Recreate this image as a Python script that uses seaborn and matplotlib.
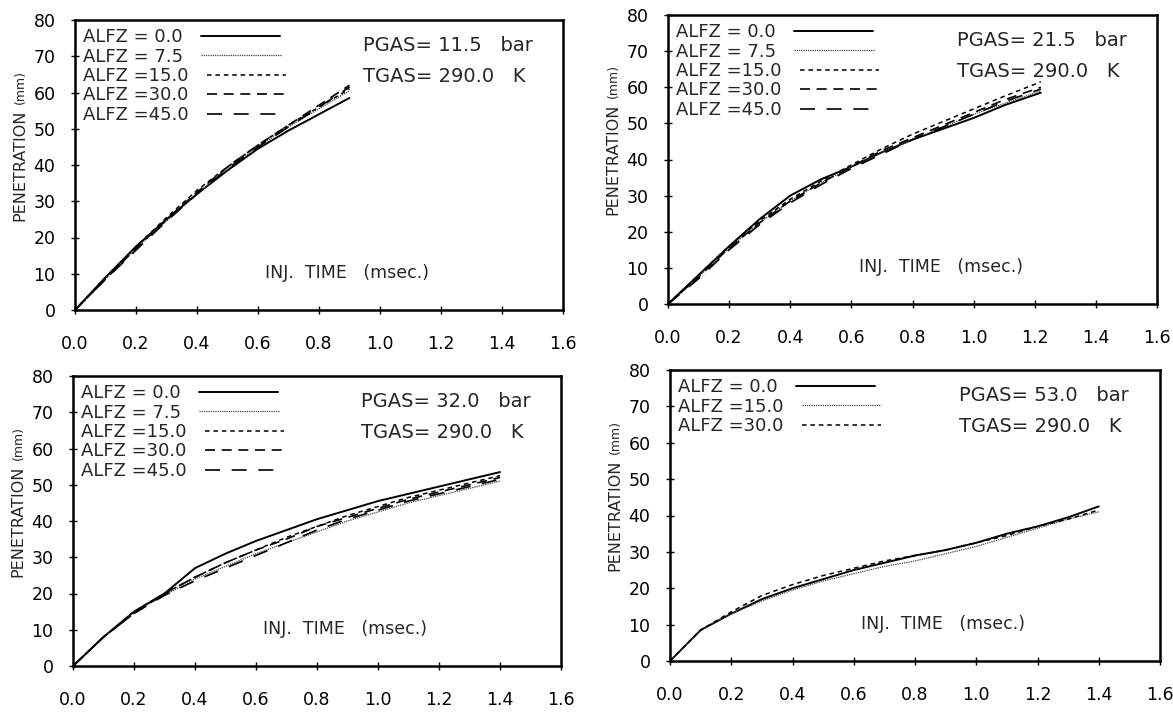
import numpy as np
import pandas as pd
import matplotlib
matplotlib.use("Agg")
import matplotlib.pyplot as plt
import seaborn as sns

# ---------------- data ----------------
ticks_x = [0.0, 0.2, 0.4, 0.6, 0.8, 1.0, 1.2, 1.4, 1.6]
tick_x_labels = ["0.0", "0.2", "0.4", "0.6", "0.8", "1.0", "1.2", "1.4", "1.6"]
ticks_y = [0, 10, 20, 30, 40, 50, 60, 70, 80]

# Panel A: PGAS 11.5 bar
t_a = [0.0, 0.1, 0.2, 0.3, 0.4, 0.5, 0.6, 0.7, 0.8, 0.9]
a_00 = [0, 9.0, 17.5, 25.0, 32.0, 38.5, 44.5, 49.5, 54.0, 58.5]
a_75 = [0, 8.5, 17.0, 24.5, 32.0, 39.0, 45.0, 50.5, 55.5, 60.5]
a_15 = [0, 9.0, 17.5, 25.5, 33.0, 39.5, 45.5, 51.0, 56.0, 61.0]
a_30 = [0, 8.5, 17.0, 25.0, 32.5, 39.5, 45.5, 51.0, 56.5, 62.0]
a_45 = [0, 8.5, 16.5, 24.5, 32.0, 39.0, 45.0, 50.5, 56.0, 61.5]

# Panel B: PGAS 21.5 bar
t_b = [0.0, 0.1, 0.2, 0.3, 0.4, 0.5, 0.6, 0.7, 0.8, 0.9, 1.0, 1.1, 1.22]
b_00 = [0, 8.0, 16.0, 23.5, 30.0, 34.5, 38.0, 42.0, 45.5, 48.5, 51.5, 55.0, 58.5]
b_75 = [0, 7.5, 15.5, 22.5, 28.5, 33.5, 38.0, 42.0, 45.5, 49.0, 52.5, 55.5, 59.0]
b_15 = [0, 8.0, 16.0, 23.0, 29.0, 34.0, 38.5, 43.0, 47.0, 50.5, 54.0, 57.5, 61.5]
b_30 = [0, 7.5, 15.5, 22.5, 28.5, 33.5, 38.0, 42.5, 46.0, 49.5, 53.0, 56.5, 60.0]
b_45 = [0, 7.0, 15.0, 22.0, 28.0, 33.0, 37.5, 41.5, 45.5, 49.0, 52.5, 56.0, 59.5]

# Panel C: PGAS 32.0 bar
t_c = [0.0, 0.1, 0.2, 0.3, 0.4, 0.5, 0.6, 0.7, 0.8, 0.9, 1.0, 1.1, 1.2, 1.3, 1.4]
c_00 = [0, 8.0, 15.0, 20.0, 27.0, 31.0, 34.5, 37.5, 40.5, 43.0, 45.5, 47.5, 49.5, 51.5, 53.5]
c_75 = [0, 8.0, 15.0, 19.5, 24.0, 27.5, 31.0, 34.0, 37.0, 40.0, 42.5, 45.0, 47.0, 49.0, 51.0]
c_15 = [0, 8.0, 15.0, 20.0, 24.5, 28.5, 32.0, 35.5, 38.5, 41.5, 44.0, 46.5, 48.5, 50.5, 52.5]
c_30 = [0, 8.0, 14.5, 20.0, 24.5, 28.5, 32.0, 35.0, 38.5, 41.0, 43.5, 46.0, 48.0, 50.0, 52.0]
c_45 = [0, 8.0, 14.5, 19.5, 23.5, 27.0, 30.5, 34.0, 37.5, 40.5, 43.0, 45.5, 47.5, 49.5, 51.5]

# Panel D: PGAS 53.0 bar
t_d = [0.0, 0.1, 0.2, 0.3, 0.4, 0.5, 0.6, 0.7, 0.8, 0.9, 1.0, 1.1, 1.2, 1.3, 1.4]
d_00 = [0, 8.5, 13.0, 17.0, 20.0, 22.5, 25.0, 27.0, 29.0, 30.5, 32.5, 35.0, 37.0, 39.5, 42.5]
d_15 = [0, 8.5, 13.0, 16.5, 19.5, 22.0, 24.0, 26.0, 27.5, 29.5, 31.5, 34.0, 36.5, 39.0, 41.0]
d_30 = [0, 8.5, 13.5, 18.0, 21.0, 23.5, 25.5, 27.5, 29.0, 30.5, 32.5, 34.5, 37.0, 39.0, 41.5]

labels5 = ["ALFZ = 0.0", "ALFZ = 7.5", "ALFZ =15.0", "ALFZ =30.0", "ALFZ =45.0"]
labels3 = ["ALFZ = 0.0", "ALFZ =15.0", "ALFZ =30.0"]
pgas = ["PGAS= 11.5   bar", "PGAS= 21.5   bar", "PGAS= 32.0   bar", "PGAS= 53.0   bar"]
tgas = "TGAS= 290.0   K"

# ---------------- styling ----------------
sns.set_style("white")
plt.rcParams["font.family"] = ["DejaVu Sans"]

styles = [
    dict(linestyle="-", linewidth=1.4, color="black"),
    dict(linestyle=(0, (1.0, 0.8)), linewidth=0.9, color="0.25"),
    dict(linestyle=(0, (3.0, 2.5)), linewidth=1.1, color="black"),
    dict(linestyle=(0, (6.0, 4.0)), linewidth=1.2, color="black"),
    dict(linestyle=(0, (9.0, 7.0)), linewidth=1.2, color="black"),
]

fig = plt.figure(figsize=(11.73, 7.15), dpi=100)

W, H = 1173.0, 715.0
def box(l, r, t, b):
    return [l / W, 1 - b / H, (r - l) / W, (b - t) / H]

panels = [
    dict(rect=box(75, 563, 20, 310), t=t_a, ys=[a_00, a_75, a_15, a_30, a_45], labels=labels5, st=[0, 1, 2, 3, 4], p=pgas[0]),
    dict(rect=box(668, 1157, 15, 304), t=t_b, ys=[b_00, b_75, b_15, b_30, b_45], labels=labels5, st=[0, 1, 2, 3, 4], p=pgas[1]),
    dict(rect=box(73, 561, 376, 666), t=t_c, ys=[c_00, c_75, c_15, c_30, c_45], labels=labels5, st=[0, 1, 2, 3, 4], p=pgas[2]),
    dict(rect=box(670, 1160, 370, 661), t=t_d, ys=[d_00, d_15, d_30], labels=labels3, st=[0, 1, 2], p=pgas[3]),
]

for pan in panels:
    ax = fig.add_axes(pan["rect"])
    for y, lab, si in zip(pan["ys"], pan["labels"], pan["st"]):
        df = pd.DataFrame({"t": pan["t"], "pen": y})
        sns.lineplot(data=df, x="t", y="pen", ax=ax, label=lab, **styles[si])
    ax.set_xlim(0, 1.6)
    ax.set_ylim(0, 80)
    ax.set_xticks(ticks_x)
    ax.set_xticklabels(tick_x_labels)
    ax.set_yticks(ticks_y)
    ax.set_xlabel("")
    ax.set_ylabel("")
    for s in ax.spines.values():
        s.set_visible(True)
        s.set_color("black")
        s.set_linewidth(1.8)
    ax.tick_params(axis="both", direction="inout", length=6, width=1, colors="black",
                   labelsize=12.5, bottom=True, left=True, top=False, right=False)
    ax.tick_params(axis="x", pad=15)
    ax.tick_params(axis="y", pad=11)
    leg = ax.legend(loc="upper left", bbox_to_anchor=(0.0, 1.0), frameon=False,
                    markerfirst=False, handlelength=4.4, fontsize=13,
                    labelspacing=0.08, handletextpad=1.0, borderaxespad=0.25,
                    borderpad=0.2)
    # left-align the legend rows (text first, line sample after)
    for col in leg._legend_handle_box.get_children():
        col.align = "left"
    ax.text(0.59, 0.912, pan["p"], transform=ax.transAxes, fontsize=14, va="center", ha="left")
    ax.text(0.59, 0.805, tgas, transform=ax.transAxes, fontsize=14, va="center", ha="left")
    ax.text(0.39, 0.128, "INJ.  TIME   (msec.)", transform=ax.transAxes, fontsize=12.5,
            va="center", ha="left")
    ax.text(-0.112, 0.5, "PENETRATION", transform=ax.transAxes, fontsize=11.5,
            rotation=90, va="center", ha="center")
    ax.text(-0.112, 0.77, "(mm)", transform=ax.transAxes, fontsize=9,
            rotation=90, va="center", ha="center")

fig.savefig("out.png", dpi=100, facecolor="white")
